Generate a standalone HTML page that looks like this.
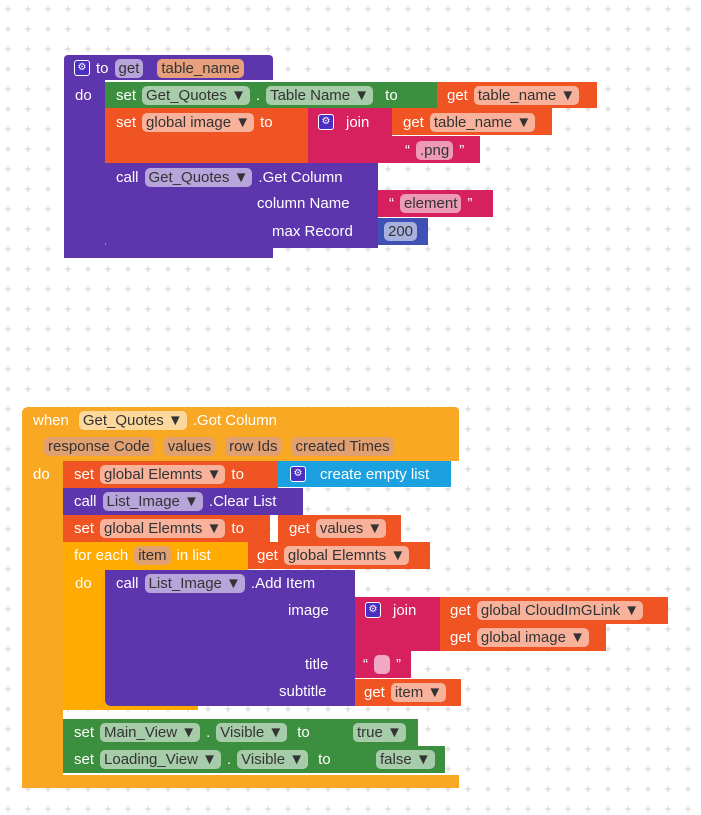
<!DOCTYPE html>
<html><head><meta charset="utf-8"><style>
body{margin:0;width:701px;height:815px;overflow:hidden;background:#fff;font-family:"Liberation Sans",sans-serif;position:relative}
.b{position:absolute}
.r{position:absolute;display:flex;align-items:center;color:#fff;font-size:15px;white-space:nowrap;height:26px}
.r>span{margin-right:6px}
.f{background:rgba(255,255,255,.55);color:#333;border-radius:5px;padding:0 4px;height:19px;line-height:19px;display:inline-block}
.P{background:#5d35ad}.G{background:#3d8f40}.O{background:#f05423}.K{background:#d6215e}.Y{background:#f9a824}.A{background:#ffab00}.C{background:#1ba1df}.B{background:#3f51b5}
.ic{display:inline-block;width:14px;height:14px;border:1.5px solid #fff;background:#4b2fc2;border-radius:3px;color:#fff;font-size:10px;line-height:14px;text-align:center}
</style></head><body>
<svg class="b" style="left:0;top:0" width="701" height="815"><defs><pattern id="p" width="20" height="20" patternUnits="userSpaceOnUse" x="-2" y="-1"><path d="M10 7v6M7 10h6" stroke="#d3d3d3" stroke-width="1"/></pattern></defs><rect width="701" height="815" fill="url(#p)"/></svg>

<!-- block 1 -->
<div class="b P" style="left:64px;top:55px;width:209px;height:25px;border-radius:4px 4px 0 0"></div>
<div class="b P" style="left:64px;top:80px;width:41px;height:178px;border-radius:0 0 0 6px"></div>
<div class="b P" style="left:64px;top:245px;width:209px;height:13px"></div>
<div class="r" style="left:74px;top:55px"><span class="ic">⚙</span><span>to</span><span class="f">get</span><span class="f" style="background:#e8a07c;margin-left:8px">table_name</span></div>
<div class="r" style="left:75px;top:82px"><span>do</span></div>

<div class="b G" style="left:105px;top:82px;width:332px;height:26px"></div>
<div class="r" style="left:116px;top:82px"><span>set</span><span class="f">Get_Quotes ▼</span><span>.</span><span class="f">Table Name ▼</span><span style="margin-left:6px">to</span></div>
<div class="b O" style="left:437px;top:82px;width:160px;height:26px"></div>
<div class="r" style="left:447px;top:82px"><span>get</span><span class="f">table_name ▼</span></div>

<div class="b O" style="left:105px;top:108px;width:203px;height:55px"></div>
<div class="r" style="left:116px;top:109px"><span>set</span><span class="f">global image ▼</span><span>to</span></div>
<div class="b K" style="left:308px;top:108px;width:84px;height:55px"></div>
<div class="r" style="left:318px;top:109px"><span class="ic">⚙</span><span style="margin-left:6px">join</span></div>
<div class="b O" style="left:392px;top:108px;width:160px;height:27px"></div>
<div class="r" style="left:403px;top:109px"><span>get</span><span class="f">table_name ▼</span></div>
<div class="b K" style="left:392px;top:136px;width:88px;height:27px"></div>
<div class="r" style="left:405px;top:137px"><span>“</span><span class="f">.png</span><span>”</span></div>

<div class="b P" style="left:105px;top:163px;width:273px;height:85px;border-radius:0 0 0 6px"></div>
<div class="r" style="left:116px;top:164px"><span>call</span><span class="f">Get_Quotes ▼</span><span>.Get Column</span></div>
<div class="r" style="left:257px;top:190px"><span>column Name</span></div>
<div class="r" style="left:272px;top:218px"><span>max Record</span></div>
<div class="b K" style="left:378px;top:190px;width:115px;height:27px"></div>
<div class="r" style="left:389px;top:190px"><span>“</span><span class="f">element</span><span>”</span></div>
<div class="b B" style="left:378px;top:218px;width:50px;height:27px"></div>
<div class="r" style="left:384px;top:218px"><span class="f">200</span></div>

<!-- block 2 -->
<div class="b Y" style="left:22px;top:407px;width:437px;height:54px;border-radius:6px 4px 0 0"></div>
<div class="b Y" style="left:22px;top:461px;width:41px;height:327px;border-radius:0 0 0 6px"></div>
<div class="b Y" style="left:22px;top:775px;width:437px;height:13px"></div>
<div class="r" style="left:33px;top:407px"><span>when</span><span class="f" style="margin-left:4px">Get_Quotes ▼</span><span>.Got Column</span></div>
<div class="r" style="left:44px;top:433px"><span class="f" style="background:#e0a070">response Code</span><span class="f" style="background:#e0a070;margin-left:4px">values</span><span class="f" style="background:#e0a070;margin-left:4px">row Ids</span><span class="f" style="background:#e0a070;margin-left:4px">created Times</span></div>
<div class="r" style="left:33px;top:461px"><span>do</span></div>

<div class="b O" style="left:63px;top:461px;width:215px;height:27px"></div>
<div class="r" style="left:74px;top:461px"><span>set</span><span class="f">global Elemnts ▼</span><span>to</span></div>
<div class="b C" style="left:278px;top:461px;width:173px;height:26px"></div>
<div class="r" style="left:290px;top:461px"><span class="ic">⚙</span><span style="margin-left:8px">create empty list</span></div>

<div class="b P" style="left:63px;top:488px;width:240px;height:27px"></div>
<div class="r" style="left:74px;top:488px"><span>call</span><span class="f">List_Image ▼</span><span>.Clear List</span></div>

<div class="b O" style="left:63px;top:515px;width:207px;height:27px"></div>
<div class="r" style="left:74px;top:515px"><span>set</span><span class="f">global Elemnts ▼</span><span>to</span></div>
<div class="b O" style="left:278px;top:515px;width:123px;height:27px"></div>
<div class="r" style="left:289px;top:515px"><span>get</span><span class="f">values ▼</span></div>

<div class="b A" style="left:63px;top:542px;width:185px;height:28px"></div>
<div class="b A" style="left:63px;top:570px;width:42px;height:140px"></div>
<div class="b A" style="left:63px;top:700px;width:135px;height:10px"></div>
<div class="r" style="left:74px;top:542px"><span>for each</span><span class="f" style="background:#e0a070">item</span><span>in list</span></div>
<div class="b O" style="left:248px;top:542px;width:182px;height:27px"></div>
<div class="r" style="left:257px;top:542px"><span>get</span><span class="f">global Elemnts ▼</span></div>
<div class="r" style="left:75px;top:570px"><span>do</span></div>

<div class="b P" style="left:105px;top:570px;width:250px;height:136px;border-radius:0 0 0 6px"></div>
<div class="r" style="left:116px;top:570px"><span>call</span><span class="f">List_Image ▼</span><span>.Add Item</span></div>
<div class="r" style="left:288px;top:597px"><span>image</span></div>
<div class="r" style="left:305px;top:651px"><span>title</span></div>
<div class="r" style="left:279px;top:678px"><span>subtitle</span></div>
<div class="b K" style="left:355px;top:597px;width:85px;height:54px"></div>
<div class="r" style="left:365px;top:597px"><span class="ic">⚙</span><span style="margin-left:6px">join</span></div>
<div class="b O" style="left:440px;top:597px;width:228px;height:27px"></div>
<div class="r" style="left:450px;top:597px"><span>get</span><span class="f">global CloudImGLink ▼</span></div>
<div class="b O" style="left:440px;top:624px;width:166px;height:27px"></div>
<div class="r" style="left:450px;top:624px"><span>get</span><span class="f">global image ▼</span></div>
<div class="b K" style="left:355px;top:651px;width:56px;height:27px"></div>
<div class="r" style="left:363px;top:651px"><span>“</span><span class="f" style="width:8px;background:#f0a8c4"></span><span>”</span></div>
<div class="b O" style="left:355px;top:679px;width:106px;height:27px"></div>
<div class="r" style="left:364px;top:679px"><span>get</span><span class="f">item ▼</span></div>

<div class="b G" style="left:63px;top:719px;width:355px;height:27px"></div>
<div class="r" style="left:74px;top:719px"><span>set</span><span class="f">Main_View ▼</span><span>.</span><span class="f">Visible ▼</span><span style="margin-left:4px">to</span></div>
<div class="r" style="left:353px;top:719px"><span class="f">true ▼</span></div>
<div class="b G" style="left:63px;top:746px;width:382px;height:27px"></div>
<div class="r" style="left:74px;top:746px"><span>set</span><span class="f">Loading_View ▼</span><span>.</span><span class="f">Visible ▼</span><span style="margin-left:4px">to</span></div>
<div class="r" style="left:376px;top:746px"><span class="f">false ▼</span></div>
</body></html>
